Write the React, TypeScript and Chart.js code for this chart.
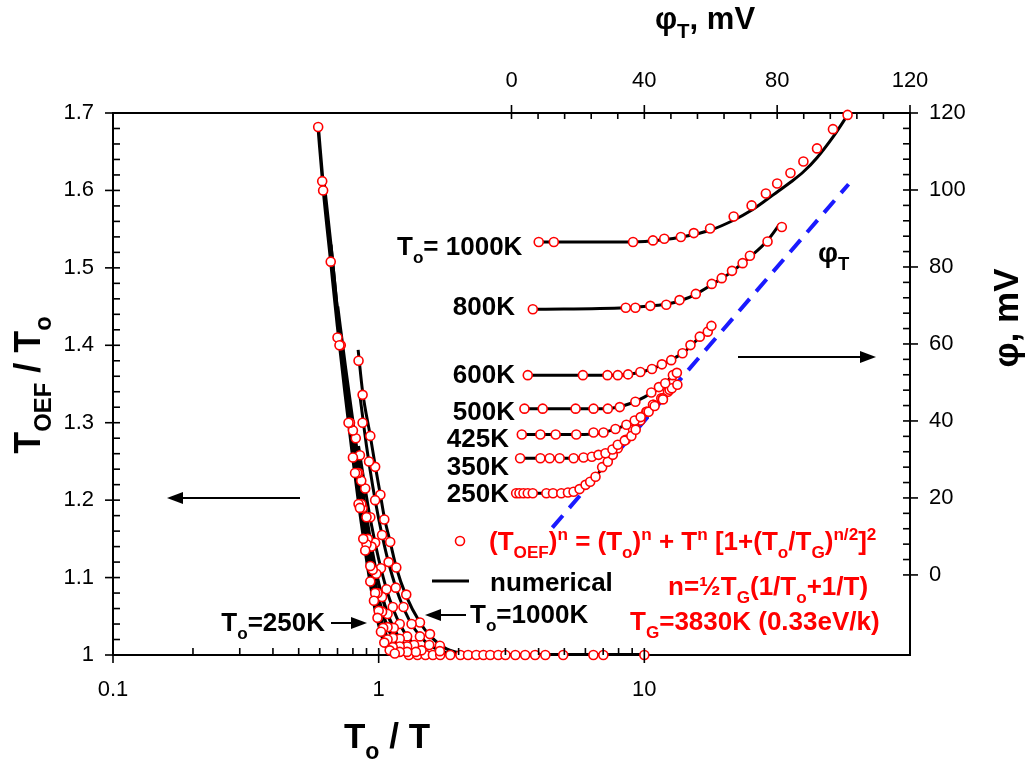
import React, { useEffect, useRef } from 'react';
import { Chart, registerables } from 'chart.js';

Chart.register(...registerables);

const FONT = '"Liberation Sans", Arial, Helvetica, sans-serif';

// ---- tick labels ----
const bottomTicks = [0.1, 1, 10];
const topTicks = [0, 40, 80, 120];
const leftTicks = [1, 1.1, 1.2, 1.3, 1.4, 1.5, 1.6, 1.7];
const rightTicks = [0, 20, 40, 60, 80, 100, 120];

// ---- left panel: T_OEF/T_o vs T_o/T (lines) ----
const l250X = [0.592, 0.62, 0.66, 0.7, 0.75, 0.8, 0.85, 0.9, 0.95, 1.0, 1.05, 1.1, 1.2, 1.5];
const l250Y = [1.682, 1.6, 1.51, 1.425, 1.335, 1.255, 1.185, 1.125, 1.075, 1.04, 1.016, 1.005, 1.0, 1.0];
const l350X = [0.62, 0.66, 0.7, 0.75, 0.8, 0.85, 0.9, 0.95, 1.0, 1.05, 1.1, 1.2, 1.4];
const l350Y = [1.615, 1.53, 1.44, 1.347, 1.27, 1.2, 1.142, 1.093, 1.057, 1.032, 1.016, 1.004, 1.0];
const l425X = [0.66, 0.7, 0.75, 0.8, 0.85, 0.9, 0.95, 1.0, 1.05, 1.1, 1.2, 1.3, 1.5];
const l425Y = [1.53, 1.442, 1.356, 1.285, 1.218, 1.16, 1.11, 1.073, 1.047, 1.03, 1.011, 1.003, 1.0];
const l500X = [0.7, 0.75, 0.8, 0.85, 0.9, 0.95, 1.0, 1.05, 1.1, 1.2, 1.3, 1.45, 1.7];
const l500Y = [1.45, 1.37, 1.3, 1.236, 1.178, 1.13, 1.092, 1.066, 1.046, 1.021, 1.009, 1.002, 1.0];
const l600X = [0.84, 0.88, 0.92, 0.96, 1.0, 1.05, 1.1, 1.2, 1.3, 1.4, 1.6, 1.9];
const l600Y = [1.27, 1.225, 1.185, 1.152, 1.124, 1.095, 1.072, 1.04, 1.021, 1.01, 1.002, 1.0];
const l800X = [0.85, 0.9, 0.95, 1.0, 1.05, 1.1, 1.2, 1.3, 1.45, 1.6, 1.8, 2.1];
const l800Y = [1.335, 1.27, 1.218, 1.176, 1.142, 1.114, 1.073, 1.046, 1.022, 1.01, 1.003, 1.0];
const l1000X = [0.837, 0.87, 0.93, 0.97, 1.015, 1.05, 1.105, 1.165, 1.27, 1.43, 1.56, 1.8, 2.2, 2.6];
const l1000Y = [1.394, 1.34, 1.283, 1.245, 1.207, 1.178, 1.146, 1.113, 1.076, 1.042, 1.025, 1.008, 1.001, 1.0];
const baseX = [1.3, 10];
const baseY = [1.0, 1.0];

// ---- left panel: analytic formula (markers) ----
const m250X = [0.592, 0.613, 0.618, 0.66, 0.7, 0.712, 0.77, 0.8, 0.815, 0.84, 0.85, 0.875, 0.89, 0.93, 0.96, 0.99, 1.02, 1.05, 1.1, 1.15];
const m250Y = [1.682, 1.612, 1.6, 1.508, 1.41, 1.4, 1.3, 1.255, 1.235, 1.195, 1.19, 1.15, 1.135, 1.095, 1.07, 1.048, 1.03, 1.016, 1.006, 1.002];
const m350X = [0.72, 0.78, 0.83, 0.86, 0.9, 0.93, 0.97, 1.0, 1.04, 1.08, 1.13, 1.2];
const m350Y = [1.4, 1.3, 1.235, 1.195, 1.143, 1.115, 1.08, 1.057, 1.035, 1.02, 1.01, 1.004];
const m425X = [0.8, 0.84, 0.87, 0.91, 0.95, 0.99, 1.03, 1.08, 1.13, 1.2, 1.28];
const m425Y = [1.29, 1.235, 1.19, 1.15, 1.11, 1.08, 1.056, 1.036, 1.022, 1.011, 1.004];
const m500X = [0.82, 0.86, 0.9, 0.94, 0.98, 1.03, 1.08, 1.14, 1.2, 1.28, 1.38];
const m500Y = [1.28, 1.225, 1.178, 1.14, 1.105, 1.075, 1.053, 1.035, 1.021, 1.011, 1.004];
const m600X = [0.85, 0.89, 0.93, 0.97, 1.02, 1.07, 1.13, 1.2, 1.28, 1.36, 1.45];
const m600Y = [1.258, 1.215, 1.178, 1.145, 1.112, 1.085, 1.062, 1.04, 1.024, 1.013, 1.006];
const m800X = [0.87, 0.92, 0.97, 1.03, 1.09, 1.16, 1.24, 1.33, 1.43, 1.55, 1.7];
const m800Y = [1.3, 1.25, 1.2, 1.155, 1.12, 1.087, 1.062, 1.04, 1.024, 1.013, 1.005];
const m1000X = [0.84, 0.87, 0.93, 0.97, 1.015, 1.05, 1.105, 1.165, 1.27, 1.43, 1.56, 1.7];
const m1000Y = [1.38, 1.336, 1.283, 1.243, 1.207, 1.175, 1.146, 1.113, 1.078, 1.042, 1.027, 1.012];
const mBaseX = [1.3, 1.4, 1.5, 1.6, 1.705, 1.86, 2.03, 2.17, 2.33, 2.48, 2.63, 2.82, 3.0, 3.27, 3.56, 3.88, 4.24, 4.95, 6.43, 7.01, 10];
const mBaseY = mBaseX.map(() => 1.0);

// ---- right panel: phi vs phi_T (lines) ----
const r1000X = [8.2, 36.6, 45, 52, 60, 67, 72, 77, 80, 84, 88, 92, 97, 101.3];
const r1000Y = [86.5, 86.5, 87.0, 87.9, 89.6, 92.2, 94.6, 97.6, 99.5, 102, 104.8, 108.4, 114, 119.6];
const r800X = [6.4, 34.4, 42, 47, 51, 55.5, 60.3, 66.4, 71.8, 77.1, 80.8];
const r800Y = [69.0, 69.4, 69.9, 70.4, 71.3, 72.9, 75.4, 78.8, 82.6, 86.9, 91.2];
const r600X = [4.9, 32, 36, 40, 44, 48, 52, 56, 60.5];
const r600Y = [51.9, 51.9, 52.2, 52.9, 54.1, 55.8, 57.9, 61.2, 64.9];
const r500X = [3.9, 29, 32, 36, 40, 44, 48, 50];
const r500Y = [43.2, 43.2, 43.6, 44.6, 46.2, 48.3, 51.2, 52.7];
const r425X = [3.1, 22, 27, 31, 35, 39, 43, 47, 50];
const r425Y = [36.5, 36.5, 36.9, 37.8, 39.2, 41.1, 43.6, 46.7, 49.3];
const r350X = [2.6, 18, 22, 26, 30, 34, 38, 42, 46, 48];
const r350Y = [30.3, 30.3, 30.6, 31.3, 32.6, 34.8, 38.0, 42.3, 46.6, 48.9];
const r250X = [1.4, 15, 18, 21, 24, 27, 30, 33, 36, 40, 44, 48.6];
const r250Y = [21.2, 21.2, 21.5, 22.4, 24.4, 27.3, 30.4, 33.6, 36.9, 40.8, 44.8, 49.6];
const phiTX = [12.3, 101.5];
const phiTY = [12.3, 101.5];

// ---- right panel: formula (markers) ----
const q1000X = [8.2, 12.75, 36.6, 42.6, 46.0, 51.0, 54.9, 59.8, 66.9, 72.3, 76.6, 80.0, 84.0, 87.9, 92.0, 96.8, 101.2];
const q1000Y = [86.5, 86.5, 86.5, 86.9, 87.35, 87.8, 88.8, 90.0, 93.1, 96.0, 99.1, 101.7, 104.4, 107.4, 110.8, 115.8, 119.5];
const q800X = [6.42, 34.4, 37.3, 41.8, 46.6, 50.6, 55.5, 60.3, 63.3, 66.4, 69.6, 71.8, 77.1, 81.4];
const q800Y = [69.0, 69.4, 69.4, 69.9, 70.2, 71.4, 73.0, 75.6, 77.1, 79.0, 81.0, 82.9, 86.6, 90.4];
const q600X = [4.9, 21.5, 28.9, 32.0, 35.1, 38.8, 42.3, 45.3, 48.1, 51.5, 53.9, 56.7, 59.1, 60.2];
const q600Y = [51.9, 51.9, 51.9, 51.9, 52.1, 52.7, 53.5, 54.7, 55.8, 57.6, 59.7, 61.9, 63.2, 64.7];
const q500X = [3.9, 9.4, 19.3, 24.7, 29.0, 32.6, 37.3, 42.1, 44.4, 46.3, 48.6, 49.8];
const q500Y = [43.2, 43.2, 43.2, 43.2, 43.2, 43.6, 45.0, 47.4, 48.8, 49.8, 51.9, 52.5];
const q425X = [3.1, 8.7, 13.3, 19.5, 24.7, 27.7, 31.3, 34.6, 37.1, 38.9, 41.3, 43.1, 45.6, 48.3, 49.95];
const q425Y = [36.5, 36.5, 36.5, 36.5, 37.0, 37.0, 37.9, 39.0, 40.1, 41.0, 42.4, 43.9, 45.6, 48.5, 49.4];
const q350X = [2.6, 8.7, 11.5, 14.5, 18.7, 21.7, 24.2, 26.2, 28.3, 30.4, 32.0, 34.1, 36.1, 37.4, 38.8, 40.8, 42.6, 45.6, 47.6];
const q350Y = [30.3, 30.3, 30.3, 30.3, 30.3, 30.5, 30.7, 31.2, 31.6, 32.6, 33.8, 34.9, 36.1, 37.7, 40.1, 42.4, 44.2, 45.9, 48.1];
const q250X = [1.4, 2.4, 3.6, 4.9, 6.4, 10.5, 12.5, 15.0, 17.0, 18.7, 20.5, 22.3, 23.7, 25.3, 27.3, 29.0, 30.5, 32.0, 34.4, 36.6, 38.6, 40.6, 42.8, 45.1, 47.1, 48.6];
const q250Y = [21.2, 21.2, 21.2, 21.2, 21.2, 21.2, 21.2, 21.2, 21.4, 21.6, 22.3, 23.4, 24.2, 25.5, 28.0, 29.4, 31.2, 32.9, 35.1, 37.7, 40.3, 42.4, 44.2, 45.9, 47.6, 49.8];

const pts = (xs: number[], ys: number[]) => xs.map((x, i) => ({ x, y: ys[i] }));

const lineDs = (xs: number[], ys: number[], left: boolean, width = 3) => ({
  type: 'scatter' as const,
  data: pts(xs, ys),
  showLine: true,
  borderColor: '#000',
  borderWidth: width,
  pointRadius: 0,
  cubicInterpolationMode: 'monotone' as const,
  xAxisID: left ? 'x' : 'xTop',
  yAxisID: left ? 'y' : 'yRight',
  order: 2,
});

const markDs = (xs: number[], ys: number[], left: boolean) => ({
  type: 'scatter' as const,
  data: pts(xs, ys),
  showLine: false,
  pointRadius: 4.5,
  pointBorderWidth: 1.6,
  pointBorderColor: '#ff0000',
  pointBackgroundColor: '#ffffff',
  xAxisID: left ? 'x' : 'xTop',
  yAxisID: left ? 'y' : 'yRight',
  order: 0,
  clip: false as const,
});

type Seg = { t: string; s?: 'sub' | 'sup' };

function drawRich(
  ctx: CanvasRenderingContext2D,
  segs: Seg[],
  x: number,
  y: number,
  size: number,
  color: string,
  align: 'left' | 'center' | 'right' = 'left',
  bold = true
) {
  const font = (sz: number) => `${bold ? 'bold ' : ''}${sz}px ${FONT}`;
  const small = size * 0.66;
  let w = 0;
  for (const s of segs) {
    ctx.font = font(s.s ? small : size);
    w += ctx.measureText(s.t).width;
  }
  let cx = align === 'left' ? x : align === 'center' ? x - w / 2 : x - w;
  ctx.fillStyle = color;
  ctx.textAlign = 'left';
  ctx.textBaseline = 'alphabetic';
  for (const s of segs) {
    ctx.font = font(s.s ? small : size);
    const dy = s.s === 'sub' ? size * 0.3 : s.s === 'sup' ? -size * 0.38 : 0;
    ctx.fillText(s.t, cx, y + dy);
    cx += ctx.measureText(s.t).width;
  }
}

function arrow(ctx: CanvasRenderingContext2D, x1: number, y1: number, x2: number, y2: number) {
  const ang = Math.atan2(y2 - y1, x2 - x1);
  const L = 16, H = 6;
  ctx.strokeStyle = '#000';
  ctx.fillStyle = '#000';
  ctx.lineWidth = 2;
  ctx.beginPath();
  ctx.moveTo(x1, y1);
  ctx.lineTo(x2 - Math.cos(ang) * L, y2 - Math.sin(ang) * L);
  ctx.stroke();
  ctx.beginPath();
  ctx.moveTo(x2, y2);
  ctx.lineTo(x2 - Math.cos(ang) * L - Math.sin(ang) * H, y2 - Math.sin(ang) * L + Math.cos(ang) * H);
  ctx.lineTo(x2 - Math.cos(ang) * L + Math.sin(ang) * H, y2 - Math.sin(ang) * L - Math.cos(ang) * H);
  ctx.closePath();
  ctx.fill();
}

const decor = {
  id: 'decor',
  afterDraw(chart: any) {
    const { ctx, chartArea: a, scales } = chart;
    const sx = scales.x, st = scales.xTop, sy = scales.y, sr = scales.yRight;
    ctx.save();
    ctx.strokeStyle = '#000';
    ctx.lineWidth = 1.6;
    const seg = (x1: number, y1: number, x2: number, y2: number) => {
      ctx.beginPath();
      ctx.moveTo(x1, y1);
      ctx.lineTo(x2, y2);
      ctx.stroke();
    };
    // left axis ticks
    for (let i = 0; i <= 35; i++) {
      const py = sy.getPixelForValue(1 + i * 0.02);
      const major = i % 5 === 0;
      seg(a.left - (major ? 8 : 0), py, a.left + 7, py);
    }
    // right axis ticks
    for (let i = 0; i <= 30; i++) {
      const py = sr.getPixelForValue(i * 4);
      const major = i % 5 === 0;
      seg(a.right - 7, py, a.right + (major ? 8 : 0), py);
    }
    // top axis ticks
    for (let i = 0; i <= 15; i++) {
      const px = st.getPixelForValue(i * 8);
      const major = i % 5 === 0;
      seg(px, a.top - (major ? 8 : 0), px, a.top + 6);
    }
    // bottom log ticks
    for (const dec of [0.1, 1]) {
      for (let k = 2; k <= 9; k++) {
        const px = sx.getPixelForValue(k * dec);
        seg(px, a.bottom, px, a.bottom - 7);
      }
    }
    for (const v of bottomTicks) {
      const px = sx.getPixelForValue(v);
      seg(px, a.bottom + 8, px, a.bottom - 7);
    }

    // axis titles
    const TS = 35;
    drawRich(ctx, [{ t: 'T' }, { t: 'o', s: 'sub' }, { t: ' / T' }], 387, 748, TS, '#000', 'center');
    drawRich(ctx, [{ t: 'φ' }, { t: 'T', s: 'sub' }, { t: ', mV' }], 705, 29, 31, '#000', 'center');
    ctx.save();
    ctx.translate(28, 385);
    ctx.rotate(-Math.PI / 2);
    drawRich(ctx, [{ t: 'T' }, { t: 'OEF', s: 'sub' }, { t: ' / T' }, { t: 'o', s: 'sub' }], 0, 12, 36, '#000', 'center');
    ctx.restore();
    ctx.save();
    ctx.translate(1006, 318);
    ctx.rotate(-Math.PI / 2);
    drawRich(ctx, [{ t: 'φ, mV' }], 0, 12, TS, '#000', 'center');
    ctx.restore();

    // curve labels
    const S = 26;
    drawRich(ctx, [{ t: 'T' }, { t: 'o', s: 'sub' }, { t: '= 1000K' }], 397, 255, S, '#000', 'left');
    drawRich(ctx, [{ t: '800K' }], 515, 315, S, '#000', 'right');
    drawRich(ctx, [{ t: '600K' }], 515, 383, S, '#000', 'right');
    drawRich(ctx, [{ t: '500K' }], 515, 420, S, '#000', 'right');
    drawRich(ctx, [{ t: '425K' }], 509, 447, S, '#000', 'right');
    drawRich(ctx, [{ t: '350K' }], 509, 475, S, '#000', 'right');
    drawRich(ctx, [{ t: '250K' }], 509, 502, S, '#000', 'right');
    drawRich(ctx, [{ t: 'φ' }, { t: 'T', s: 'sub' }], 818, 262, 28, '#000', 'left');

    // arrows
    arrow(ctx, 738, 357, 876, 357);
    arrow(ctx, 300, 498, 167, 498);
    arrow(ctx, 331, 623, 367, 623);
    arrow(ctx, 466, 615, 425, 615);
    drawRich(ctx, [{ t: 'T' }, { t: 'o', s: 'sub' }, { t: '=250K' }], 325, 631, S, '#000', 'right');
    drawRich(ctx, [{ t: 'T' }, { t: 'o', s: 'sub' }, { t: '=1000K' }], 470, 623, S, '#000', 'left');

    // legend
    ctx.beginPath();
    ctx.arc(460, 541, 4.5, 0, Math.PI * 2);
    ctx.fillStyle = '#fff';
    ctx.fill();
    ctx.strokeStyle = '#ff0000';
    ctx.lineWidth = 1.6;
    ctx.stroke();
    const RED = '#ff0000';
    drawRich(
      ctx,
      [
        { t: '(T' }, { t: 'OEF', s: 'sub' }, { t: ')' }, { t: 'n', s: 'sup' },
        { t: ' = (T' }, { t: 'o', s: 'sub' }, { t: ')' }, { t: 'n', s: 'sup' },
        { t: ' + T' }, { t: 'n', s: 'sup' },
        { t: ' [1+(T' }, { t: 'o', s: 'sub' }, { t: '/T' }, { t: 'G', s: 'sub' }, { t: ')' }, { t: 'n/2', s: 'sup' },
        { t: ']' }, { t: '2', s: 'sup' },
      ],
      489, 550, S, RED, 'left'
    );
    ctx.strokeStyle = '#000';
    ctx.lineWidth = 3;
    seg(432, 581, 469, 581);
    drawRich(ctx, [{ t: 'numerical' }], 490, 591, S, '#000', 'left');
    drawRich(ctx, [{ t: 'n=½T' }, { t: 'G', s: 'sub' }, { t: '(1/T' }, { t: 'o', s: 'sub' }, { t: '+1/T)' }], 668, 595, S, RED, 'left');
    drawRich(ctx, [{ t: 'T' }, { t: 'G', s: 'sub' }, { t: '=3830K (0.33eV/k)' }], 630, 630, S, RED, 'left');
    ctx.restore();
  },
};

const tickFont = { family: FONT, size: 22 };
const border = { display: true, color: '#000', width: 2 };

export default function App() {
  const ref = useRef<HTMLCanvasElement>(null);
  useEffect(() => {
    const datasets: any[] = [
      lineDs(l250X, l250Y, true, 3.5),
      lineDs(l350X, l350Y, true, 3.5),
      lineDs(l425X, l425Y, true, 3.5),
      lineDs(l500X, l500Y, true, 3.5),
      lineDs(l600X, l600Y, true),
      lineDs(l800X, l800Y, true),
      lineDs(l1000X, l1000Y, true),
      lineDs(baseX, baseY, true, 4),
      lineDs(r1000X, r1000Y, false),
      lineDs(r800X, r800Y, false),
      lineDs(r600X, r600Y, false),
      lineDs(r500X, r500Y, false),
      lineDs(r425X, r425Y, false),
      lineDs(r350X, r350Y, false),
      lineDs(r250X, r250Y, false),
      {
        type: 'scatter',
        data: pts(phiTX, phiTY),
        showLine: true,
        borderColor: '#1a1aff',
        borderWidth: 4,
        borderDash: [16, 10],
        pointRadius: 0,
        xAxisID: 'xTop',
        yAxisID: 'yRight',
        order: 1,
      },
      markDs(m250X, m250Y, true),
      markDs(m350X, m350Y, true),
      markDs(m425X, m425Y, true),
      markDs(m500X, m500Y, true),
      markDs(m600X, m600Y, true),
      markDs(m800X, m800Y, true),
      markDs(m1000X, m1000Y, true),
      markDs(mBaseX, mBaseY, true),
      markDs(q1000X, q1000Y, false),
      markDs(q800X, q800Y, false),
      markDs(q600X, q600Y, false),
      markDs(q500X, q500Y, false),
      markDs(q425X, q425Y, false),
      markDs(q350X, q350Y, false),
      markDs(q250X, q250Y, false),
    ];
    const chart = new Chart(ref.current as HTMLCanvasElement, {
      type: 'scatter',
      data: { datasets },
      options: {
        responsive: false,
        animation: false,
        layout: { padding: 0 },
        plugins: { legend: { display: false }, tooltip: { enabled: false } },
        scales: {
          x: {
            type: 'logarithmic',
            position: 'bottom',
            min: 0.1,
            max: 100,
            grid: { display: false },
            border,
            afterBuildTicks: (s: any) => { s.ticks = bottomTicks.map((v) => ({ value: v })); },
            afterFit: (s: any) => { s.height = 105; },
            ticks: { autoSkip: false, maxRotation: 0, font: tickFont, color: '#000', padding: 14, callback: (v: any) => String(v) },
          },
          xTop: {
            type: 'linear',
            position: 'top',
            min: -120,
            max: 120,
            grid: { display: false },
            border,
            afterBuildTicks: (s: any) => { s.ticks = topTicks.map((v) => ({ value: v })); },
            afterFit: (s: any) => { s.height = 113; },
            ticks: { autoSkip: false, maxRotation: 0, font: tickFont, color: '#000', padding: 11, callback: (v: any) => String(v) },
          },
          y: {
            type: 'linear',
            position: 'left',
            min: 1,
            max: 1.7,
            grid: { display: false },
            border,
            afterBuildTicks: (s: any) => { s.ticks = leftTicks.map((v) => ({ value: v })); },
            afterFit: (s: any) => { s.width = 113; },
            ticks: { autoSkip: false, font: tickFont, color: '#000', padding: 11, callback: (v: any) => String(v) },
          },
          yRight: {
            type: 'linear',
            position: 'right',
            min: -20.8,
            max: 120,
            grid: { display: false },
            border,
            afterBuildTicks: (s: any) => { s.ticks = rightTicks.map((v) => ({ value: v })); },
            afterFit: (s: any) => { s.width = 116; },
            ticks: { autoSkip: false, font: tickFont, color: '#000', padding: 11, callback: (v: any) => String(v) },
          },
        },
      },
      plugins: [decor],
    } as any);
    return () => chart.destroy();
  }, []);
  return (
    <div style={{ position: 'absolute', left: 0, top: 0, width: 1026, height: 760, background: '#fff' }}>
      <canvas ref={ref} width={1026} height={760} style={{ display: 'block', width: 1026, height: 760 }} />
    </div>
  );
}
